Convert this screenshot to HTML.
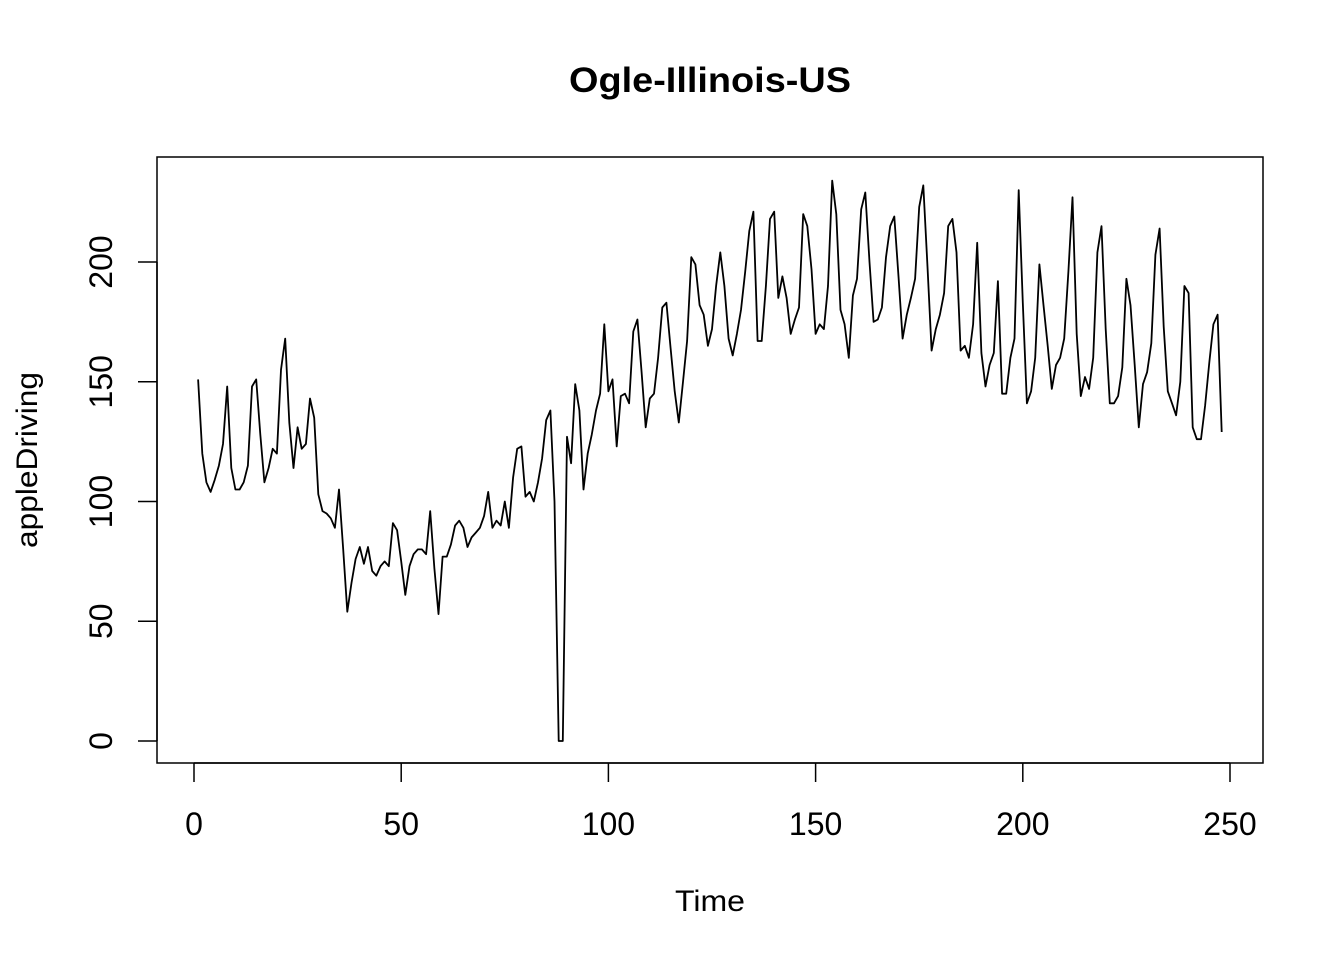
<!DOCTYPE html>
<html><head><meta charset="utf-8"><style>
html,body{margin:0;padding:0;background:#fff;}
svg{display:block;font-family:"Liberation Sans",Arial,sans-serif;}
</style></head><body>
<svg id="chart" width="1344" height="960" viewBox="0 0 1344 960">
<rect width="1344" height="960" fill="#fff"/>
<text x="710" y="92" text-anchor="middle" font-size="35" font-weight="bold" textLength="282" lengthAdjust="spacingAndGlyphs">Ogle-Illinois-US</text>
<rect x="157" y="157" width="1106" height="606" fill="none" stroke="#000" stroke-width="1.5"/>
<g id="xaxis"></g>
<g id="yaxis"></g>
<text x="710" y="911" text-anchor="middle" font-size="30" textLength="70" lengthAdjust="spacingAndGlyphs">Time</text>
<text transform="translate(37,460) rotate(-90)" text-anchor="middle" font-size="30" textLength="176" lengthAdjust="spacingAndGlyphs">appleDriving</text>
<path id="line" fill="none" stroke="#000" stroke-width="1.8" stroke-linejoin="round"/>
</svg>
<script>
const xTicks=[0,50,100,150,200,250];
const yTicks=[0,50,100,150,200];
const values=[151,120,108,104,109,115,124,148,114,105,105,108,115,148,151,128,108,114,122,120,155,168,133,114,131,122,124,143,135,103,96,95,93,89,105,80,54,66,76,81,74,81,71,69,73,75,73,91,88,75,61,73,78,80,80,78,96,72,53,77,77,82,90,92,89,81,85,87,89,94,104,89,92,90,100,89,110,122,123,102,104,100,108,118,134,138,100,0,0,127,116,149,138,105,120,128,138,145,174,146,151,123,144,145,141,171,176,154,131,143,145,160,181,183,164,146,133,150,167,202,199,182,178,165,172,190,204,190,168,161,170,180,196,213,221,167,167,190,218,221,185,194,185,170,176,181,220,215,197,170,174,172,190,234,220,180,174,160,186,193,222,229,200,175,176,181,202,215,219,194,168,178,185,193,223,232,198,163,172,178,187,215,218,204,163,165,160,174,208,162,148,157,162,192,145,145,160,168,230,183,141,146,160,199,182,165,147,157,160,168,196,227,170,144,152,147,160,204,215,172,141,141,144,156,193,182,157,131,149,154,166,203,214,173,146,141,136,150,190,187,131,126,126,140,158,174,178,129];
const NS="http://www.w3.org/2000/svg";
function sx(t){return 194+(t/250)*1036;}
function sy(v){return 741-(v/200)*479;}
const xa=document.getElementById('xaxis'), ya=document.getElementById('yaxis');
function mk(tag,attrs,parent){const e=document.createElementNS(NS,tag);for(const k in attrs)e.setAttribute(k,attrs[k]);parent.appendChild(e);return e;}
mk('line',{x1:sx(xTicks[0]),x2:sx(xTicks[xTicks.length-1]),y1:763,y2:763,stroke:'#000','stroke-width':1.5},xa);
xTicks.forEach(t=>{
  const l=mk('line',{x1:sx(t),x2:sx(t),y1:763,y2:782,stroke:'#000','stroke-width':1.5},xa);
  
  
  const tx=mk('text',{x:sx(t),y:835,'text-anchor':'middle','font-size':32},xa);
  tx.textContent=t;
  
  
});
mk('line',{x1:157,x2:157,y1:sy(yTicks[0]),y2:sy(yTicks[yTicks.length-1]),stroke:'#000','stroke-width':1.5},ya);
yTicks.forEach(v=>{
  const l=mk('line',{x1:138,x2:157,y1:sy(v),y2:sy(v),stroke:'#000','stroke-width':1.5},ya);
  
  
  const tx=mk('text',{transform:`translate(112,${sy(v)}) rotate(-90)`,'text-anchor':'middle','font-size':32},ya);
  tx.textContent=v;
  
  
});
document.getElementById('line').setAttribute('d',values.map((v,i)=>(i?'L':'M')+sx(i+1).toFixed(1)+','+sy(v).toFixed(1)).join(''));
</script>
</body></html>
